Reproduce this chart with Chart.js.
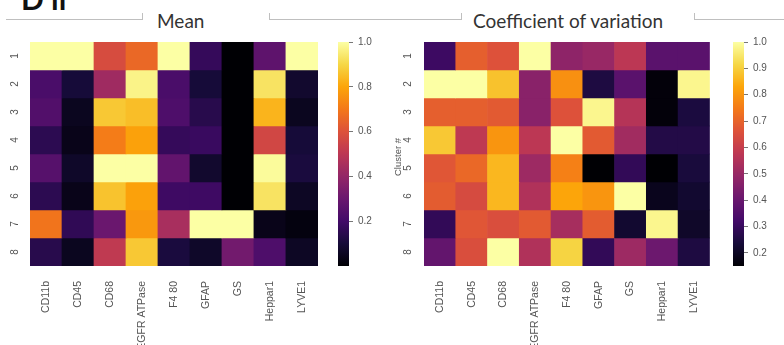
<!DOCTYPE html>
<html>
<head>
<meta charset="utf-8">
<script src="https://cdn.jsdelivr.net/npm/chart.js@4/dist/chart.umd.min.js"></script>
<style>
  html, body { margin: 0; padding: 0; background: #fff; }
  body { width: 784px; height: 345px; position: relative; overflow: hidden; }
  canvas { position: absolute; top: 0; }
  .label { position: absolute; white-space: nowrap; font-family: Lato, "Open Sans", sans-serif; color: #333; }
  .rule { position: absolute; border-color: #bfbfbf; border-style: solid; border-width: 0; }
</style>
</head>
<body>
<div class="label" style="left:21px; top:-20px; font-size:30px; font-weight:bold; color:#111;">D ii</div>
<div class="rule" style="left:6px; top:13px; width:136px; height:6px; border-bottom-width:1px; border-right-width:1px;"></div>
<div class="rule" style="left:269px; top:13px; width:191px; height:6px; border-bottom-width:1px; border-left-width:1px; border-right-width:1px;"></div>
<div class="rule" style="left:694px; top:13px; width:90px; height:6px; border-bottom-width:1px; border-left-width:1px;"></div>
<div class="label" style="left:157px; top:9px; font-size:19px;">Mean</div>
<div class="label" style="left:473px; top:9px; font-size:19px;">Coefficient of variation</div>

<canvas id="meanMap" width="330" height="345" style="left:0px;"></canvas>
<canvas id="meanBar" width="50" height="345" style="left:338px;"></canvas>
<canvas id="cvMap" width="330" height="345" style="left:392px;"></canvas>
<canvas id="cvBar" width="51" height="345" style="left:733px;"></canvas>

<script>
// Markers (columns) and clusters (rows)
const markers = ["CD11b", "CD45", "CD68", "EGFR ATPase", "F4 80", "GFAP", "GS", "Heppar1", "LYVE1"];
const clusters = ["1", "2", "3", "4", "5", "6", "7", "8"];

// Normalised mean intensity per cluster (row) and marker (column)
const meanValues = [
  [1.00, 1.00, 0.58, 0.66, 1.00, 0.17, 0.00, 0.27, 1.00],
  [0.22, 0.10, 0.43, 0.97, 0.22, 0.10, 0.00, 0.93, 0.08],
  [0.24, 0.05, 0.87, 0.85, 0.23, 0.14, 0.00, 0.83, 0.05],
  [0.15, 0.04, 0.71, 0.79, 0.17, 0.18, 0.00, 0.56, 0.10],
  [0.25, 0.07, 1.00, 1.00, 0.28, 0.08, 0.00, 0.99, 0.11],
  [0.15, 0.04, 0.86, 0.79, 0.19, 0.19, 0.00, 0.93, 0.06],
  [0.69, 0.16, 0.30, 0.77, 0.45, 1.00, 1.00, 0.04, 0.02],
  [0.14, 0.05, 0.51, 0.87, 0.11, 0.07, 0.32, 0.23, 0.06]
];

// Coefficient of variation per cluster (row) and marker (column)
const cvValues = [
  [0.31, 0.69, 0.66, 1.00, 0.48, 0.50, 0.575, 0.37, 0.37],
  [1.00, 1.00, 0.88, 0.47, 0.79, 0.25, 0.37, 0.16, 0.98],
  [0.69, 0.69, 0.68, 0.47, 0.66, 0.98, 0.56, 0.16, 0.245],
  [0.89, 0.58, 0.80, 0.575, 1.00, 0.68, 0.52, 0.26, 0.26],
  [0.67, 0.71, 0.86, 0.51, 0.76, 0.15, 0.29, 0.15, 0.24],
  [0.685, 0.64, 0.86, 0.55, 0.83, 0.80, 1.00, 0.19, 0.22],
  [0.29, 0.67, 0.65, 0.68, 0.53, 0.685, 0.22, 0.98, 0.21],
  [0.39, 0.65, 1.00, 0.55, 0.91, 0.29, 0.51, 0.41, 0.25]
];

const meanTicks = [0.2, 0.4, 0.6, 0.8, 1.0];
const cvTicks = [0.2, 0.3, 0.4, 0.5, 0.6, 0.7, 0.8, 0.9, 1.0];

// Inferno colormap anchors (evenly spaced)
const inferno = ["#000004", "#160b39", "#420a68", "#6a176e", "#932667", "#bc3754",
                 "#dd513a", "#f37819", "#fca50a", "#f6d746", "#fcffa4"];

function hexToRgb(h) {
  return [parseInt(h.slice(1, 3), 16), parseInt(h.slice(3, 5), 16), parseInt(h.slice(5, 7), 16)];
}
const infernoRgb = inferno.map(hexToRgb);

function colorAt(t) {
  t = Math.max(0, Math.min(1, t));
  const pos = t * (infernoRgb.length - 1);
  const i = Math.min(Math.floor(pos), infernoRgb.length - 2);
  const f = pos - i;
  const a = infernoRgb[i], b = infernoRgb[i + 1];
  const c = a.map((v, k) => Math.round(v + (b[k] - v) * f));
  return `rgb(${c[0]},${c[1]},${c[2]})`;
}

const tickFont = { family: "'Liberation Sans', Arial, sans-serif", size: 10.5 };
const tickColor = "#555";

// Rotated cluster labels along the left edge, plus optional axis title
function rowLabels(xPos, title, titleX) {
  return {
    id: "rowLabels",
    afterDraw(chart) {
      const ctx = chart.ctx;
      const y = chart.scales.y;
      ctx.save();
      ctx.fillStyle = tickColor;
      ctx.font = "10px 'Liberation Sans', Arial, sans-serif";
      ctx.textAlign = "center";
      ctx.textBaseline = "middle";
      clusters.forEach((c, i) => {
        ctx.save();
        ctx.translate(xPos, y.getPixelForValue(i + 0.5));
        ctx.rotate(-Math.PI / 2);
        ctx.fillText(c, 0, 0);
        ctx.restore();
      });
      if (title) {
        ctx.translate(titleX, (chart.chartArea.top + chart.chartArea.bottom) / 2 + 3);
        ctx.rotate(-Math.PI / 2);
        ctx.font = "9.5px 'Liberation Sans', Arial, sans-serif";
        ctx.fillText(title, 0, 0);
      }
      ctx.restore();
    }
  };
}

function heatmap(id, values, vmin, vmax, padLeft, padRight, labelX, title, titleX) {
  const datasets = clusters.map((c, r) => ({
    label: "Cluster " + c,
    data: markers.map(() => 1),
    backgroundColor: values[r].map(v => colorAt((v - vmin) / (vmax - vmin))),
    borderWidth: 0,
    categoryPercentage: 1.0,
    barPercentage: 1.0,
    stack: "cells"
  }));
  return new Chart(document.getElementById(id), {
    type: "bar",
    data: { labels: markers, datasets },
    options: {
      responsive: false,
      animation: false,
      events: [],
      layout: { padding: { left: padLeft, right: padRight, top: 42, bottom: 0 } },
      plugins: { legend: { display: false }, tooltip: { enabled: false }, title: { display: false } },
      scales: {
        x: {
          stacked: true,
          grid: { display: false, drawTicks: false },
          border: { display: false },
          ticks: { minRotation: 90, maxRotation: 90, padding: 15, color: tickColor, font: tickFont, autoSkip: false },
          afterFit(scale) { scale.height = 79; }
        },
        y: {
          stacked: true,
          display: false,
          min: 0,
          max: clusters.length,
          reverse: true
        }
      }
    },
    plugins: [rowLabels(labelX, title, titleX)]
  });
}

function colorbar(id, vmin, vmax, ticks, axisWidth) {
  return new Chart(document.getElementById(id), {
    type: "bar",
    data: {
      labels: [""],
      datasets: [{
        data: [[vmin, vmax]],
        borderWidth: 0,
        categoryPercentage: 1.0,
        barPercentage: 1.0,
        backgroundColor(ctx) {
          const area = ctx.chart.chartArea;
          if (!area) return "#000";
          const g = ctx.chart.ctx.createLinearGradient(0, area.bottom, 0, area.top);
          for (let i = 0; i <= 50; i++) g.addColorStop(i / 50, colorAt(i / 50));
          return g;
        }
      }]
    },
    options: {
      responsive: false,
      animation: false,
      events: [],
      layout: { padding: { left: 0, right: 0, top: 42, bottom: 79 } },
      plugins: { legend: { display: false }, tooltip: { enabled: false } },
      scales: {
        x: { display: false },
        y: {
          position: "right",
          min: vmin,
          max: vmax,
          grid: { drawOnChartArea: false, tickLength: 4, color: "#777", tickWidth: 1 },
          border: { display: false },
          ticks: { padding: 5, color: tickColor, font: { family: "'Liberation Sans', Arial, sans-serif", size: 10 },
                   callback: v => Number(v).toFixed(1) },
          afterBuildTicks(scale) { scale.ticks = ticks.map(v => ({ value: v })); },
          afterFit(scale) { scale.width = axisWidth; }
        }
      }
    }
  });
}

heatmap("meanMap", meanValues, 0.0, 1.0, 30, 9, 15.5, null, 0);
colorbar("meanBar", 0.0, 1.0, meanTicks, 39);
heatmap("cvMap", cvValues, 0.15, 1.0, 32, 8, 16, "Cluster #", 6);
colorbar("cvBar", 0.15, 1.0, cvTicks, 40);
</script>
</body>
</html>
